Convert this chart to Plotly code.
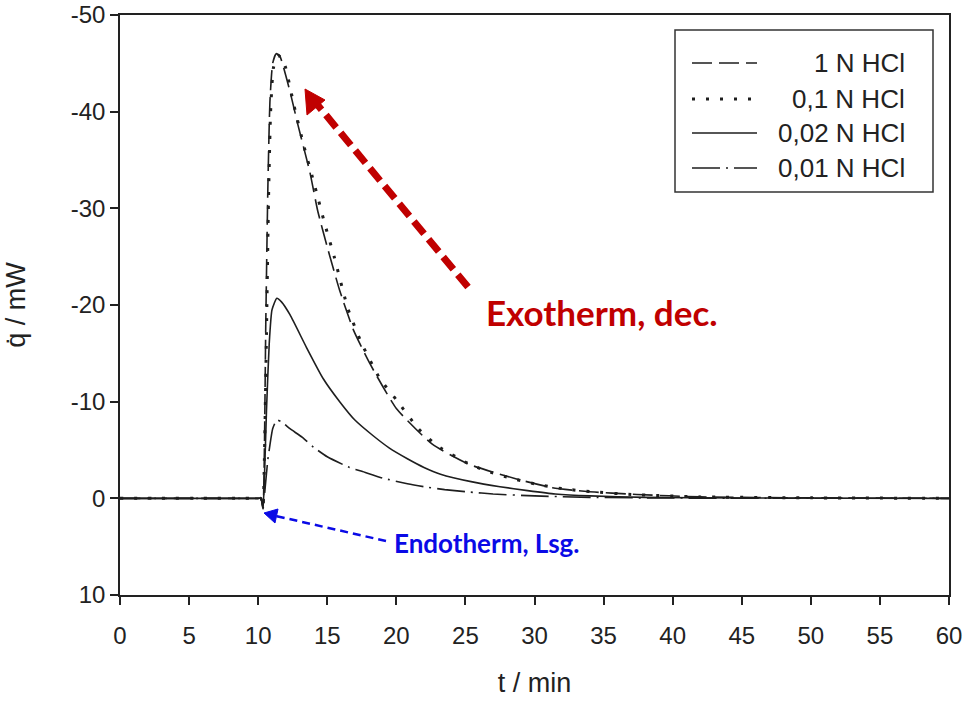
import plotly.graph_objects as go

# Heat flow curves (q̇ in mW, negative = exothermic) vs time in minutes
t_1n = [0, 3, 6, 9, 10, 10.2, 10.35, 10.45, 10.55, 10.7, 10.85, 11.05, 11.3, 11.55, 12.3, 12.9, 13.75,
        14.3, 15.0, 15.9, 16.9, 18.1, 20.0, 22.6, 25.3, 28.7, 31.3, 33.8, 37.4, 42, 50, 60]
q_1n = [0, 0, 0, 0, 0, 0, 0.9, -5, -18, -32, -41, -45, -46.0, -45.8, -42.1, -38.5, -33.7,
        -29.8, -26.0, -21.5, -17.4, -13.9, -9.3, -5.6, -3.5, -2.0, -1.1, -0.7, -0.4, -0.15, -0.05, 0]

t_01n = [0, 3, 6, 9, 10, 10.2, 10.35, 10.45, 10.6, 10.75, 10.9, 11.1, 11.4, 11.7, 12.0, 12.6, 13.3, 14.1,
         14.8, 15.5, 16.5, 17.5, 18.8, 20.0, 21.6, 23.0, 25.2, 26.4, 28.0, 30, 32, 34, 37, 42, 50, 60]
q_01n = [0, 0, 0, 0, 0, 0, 0.9, -4, -17, -31, -40, -44.5, -45.8, -45.6, -44.5, -40.6, -36.5, -32.3,
         -28.5, -25, -19.6, -16, -12.4, -10.2, -7.2, -5.4, -3.6, -2.9, -2.2, -1.5, -1.0, -0.7, -0.4, -0.15, -0.05, 0]

t_002n = [0, 3, 6, 9, 10, 10.2, 10.35, 10.45, 10.6, 10.8, 11.0, 11.35, 11.7, 12.3, 13.5, 14.7, 15.9, 17.0,
          18.3, 19.5, 20.8, 22.0, 23.2, 25.5, 27.5, 29.5, 31.5, 34, 38, 45, 60]
q_002n = [0, 0, 0, 0, 0, 0, 1.0, -2, -9, -16, -19.5, -20.7, -20.3, -19.0, -15.6, -12.4, -10.0, -8.1,
          -6.5, -5.2, -4.1, -3.2, -2.5, -1.7, -1.2, -0.8, -0.45, -0.25, -0.1, -0.03, 0]

t_001n = [0, 3, 6, 9, 10, 10.2, 10.35, 10.5, 10.7, 10.85, 11.05, 11.35, 11.7, 12.3, 13.2, 14.0, 15.0, 16.6,
          17.5, 19.0, 20.8, 22.0, 23.5, 25.3, 27, 30, 34, 40, 60]
q_001n = [0, 0, 0, 0, 0, 0, 1.1, -1, -4, -5.5, -7.2, -8.1, -7.9, -7.2, -6.3, -5.3, -4.3, -3.2,
          -2.8, -2.1, -1.5, -1.2, -0.9, -0.65, -0.45, -0.25, -0.1, -0.03, 0]

series_names = ["1 N HCl", "0,1 N HCl", "0,02 N HCl", "0,01 N HCl"]
series_t = [t_1n, t_01n, t_002n, t_001n]
series_q = [q_1n, q_01n, q_002n, q_001n]
series_dash = ["20px,7px", "3px,11px", "solid", "28px,6px,2px,6px"]
series_width = [1.6, 3, 1.6, 1.6]
line_color = "#1e1e1e"

x_ticks = list(range(0, 61, 5))
y_ticks = [-50, -40, -30, -20, -10, 0, 10]
y_ticktext = [str(v) for v in y_ticks]  # plain hyphen for negative labels

# Plot area in page pixels (used to place the decorations)
W, H = 965, 702
ML, MR, MT, MB = 120, 16, 15, 107
PW, PH = W - ML - MR, H - MT - MB


def px(x):
    return (x - ML) / PW


def py(y):
    return (H - MB - y) / PH


fig = go.Figure()
for name, t, q, dash, w in zip(series_names, series_t, series_q, series_dash, series_width):
    fig.add_trace(go.Scatter(
        x=t, y=q, mode="lines", name=name,
        line=dict(color=line_color, width=w, dash=dash, shape="spline", smoothing=0.5),
        showlegend=False,
    ))

shapes = []
annotations = []

# Legend box with line samples and right-aligned labels
shapes.append(dict(type="rect", xref="paper", yref="paper",
                   x0=px(675), x1=px(933), y0=py(192), y1=py(30),
                   line=dict(color="#333333", width=1.5), fillcolor="white", layer="above"))
row_y = [63, 99, 133, 168]
for name, dash, w, ry in zip(series_names, series_dash, series_width, row_y):
    shapes.append(dict(type="line", xref="paper", yref="paper",
                       x0=px(692), x1=px(757), y0=py(ry), y1=py(ry),
                       line=dict(color=line_color, width=w, dash=dash), layer="above"))
    annotations.append(dict(xref="paper", yref="paper", x=px(907), y=py(ry),
                            xanchor="right", yanchor="middle", showarrow=False, text=name,
                            font=dict(family="Liberation Sans", size=26, color="#222222")))

# Red dashed arrow: exothermic peak
red = "#C00000"
shapes.append(dict(type="line", xref="paper", yref="paper",
                   x0=px(468), y0=py(287), x1=px(316), y1=py(103),
                   line=dict(color=red, width=7, dash="16px,7px")))
shapes.append(dict(type="path", xref="paper", yref="paper",
                   path=f"M {px(305)} {py(89)} L {px(325)} {py(100)} L {px(307)} {py(115)} Z",
                   fillcolor=red, line=dict(color=red, width=1)))
annotations.append(dict(xref="paper", yref="paper", x=px(484), y=py(312),
                        xanchor="left", yanchor="middle", showarrow=False,
                        text="<b>Exotherm, dec.</b>",
                        font=dict(family="Lato", size=35, color=red)))

# Blue dashed arrow: endothermic dip at dissolution
blue = "#0a0ae6"
shapes.append(dict(type="line", xref="paper", yref="paper",
                   x0=px(386), y0=py(541), x1=px(276), y1=py(516),
                   line=dict(color=blue, width=2.5, dash="8px,5px")))
shapes.append(dict(type="path", xref="paper", yref="paper",
                   path=f"M {px(264)} {py(513)} L {px(278)} {py(509)} L {px(275)} {py(523)} Z",
                   fillcolor=blue, line=dict(color=blue, width=1)))
annotations.append(dict(xref="paper", yref="paper", x=px(392), y=py(543),
                        xanchor="left", yanchor="middle", showarrow=False,
                        text="<b>Endotherm, Lsg.</b>",
                        font=dict(family="Lato", size=26, color=blue)))

axis_font = dict(family="Liberation Sans", size=24, color="#222222")
title_font = dict(family="Liberation Sans", size=27, color="#222222")

fig.update_layout(
    width=W, height=H,
    margin=dict(l=ML, r=MR, t=MT, b=MB, autoexpand=False),
    paper_bgcolor="white", plot_bgcolor="white",
    shapes=shapes, annotations=annotations,
    showlegend=False,
    xaxis=dict(range=[0, 60], tickvals=x_ticks, ticks="outside", ticklen=8, tickwidth=1.5,
               tickcolor="#222222", showline=True, linecolor="#222222", linewidth=1.5,
               mirror=True, showgrid=False, zeroline=False, tickfont=axis_font,
               ticklabelstandoff=10, automargin=False, ticklabeloverflow="allow",
               title=dict(text="t / min", font=title_font, standoff=26)),
    yaxis=dict(range=[10, -50], tickvals=y_ticks, ticktext=y_ticktext, ticks="outside",
               ticklen=8, tickwidth=1.5,
               tickcolor="#222222", showline=True, linecolor="#222222", linewidth=1.5,
               mirror=True, showgrid=False, zeroline=False, tickfont=axis_font,
               automargin=False, ticklabeloverflow="allow",
               title=dict(text="q\u0307 / mW", font=title_font, standoff=37)),
)

fig.write_html("out.html")
